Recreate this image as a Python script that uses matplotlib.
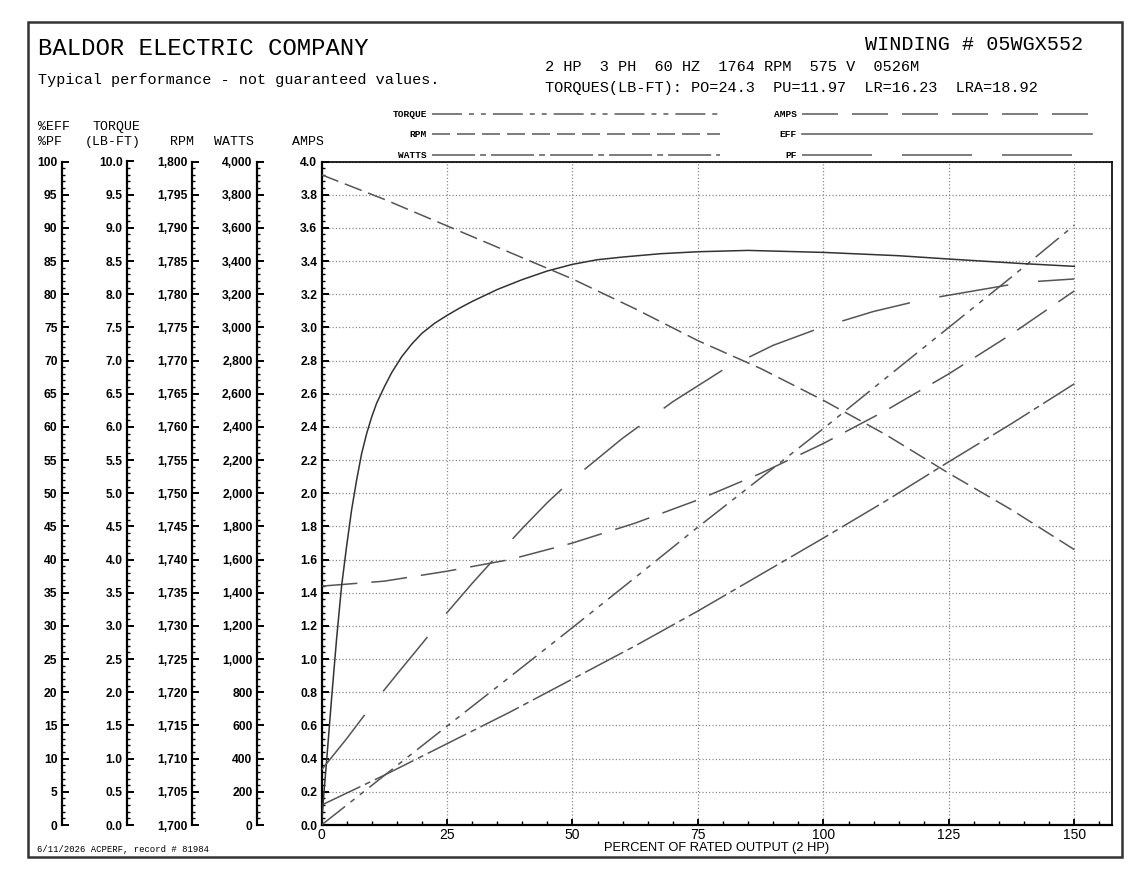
import matplotlib
matplotlib.use('Agg')
import matplotlib.pyplot as plt
from matplotlib.ticker import MultipleLocator, FuncFormatter
from matplotlib.patches import Rectangle

plt.rcParams['lines.scale_dashes'] = False

W, H = 1142, 882

# ---- performance data ----
LOAD = [0, 12.5, 25, 37.5, 50, 62.5, 75, 87.5, 100, 112.5, 125, 137.5, 150]
TORQUE = [0, 0.745, 1.49, 2.23, 2.975, 3.73, 4.49, 5.23, 5.975, 6.74, 7.5, 8.26, 9.04]
RPM = [1798.0, 1794.3, 1790.3, 1786.3, 1782.3, 1777.8, 1773.0, 1768.8, 1764.0,
       1758.8, 1753.0, 1747.5, 1741.5]
WATTS = [120, 300, 490, 680, 880, 1080, 1290, 1510, 1730, 1955, 2190, 2420, 2660]
AMPS = [1.44, 1.47, 1.53, 1.60, 1.70, 1.82, 1.96, 2.12, 2.30, 2.50, 2.72, 2.96, 3.22]

EFF_LOAD = [0, 0.5, 1, 2, 3, 4, 5, 6, 7, 8, 9, 10, 11, 12.5, 14, 16, 18, 20,
            22.5, 25, 27.5, 30, 35, 40, 45, 50, 55, 60, 67.5, 75, 85, 100, 115,
            125, 140, 150]
EFF = [0, 5, 9.5, 19, 28, 36, 42, 47.5, 52, 56, 59, 61.5, 63.6, 66.0, 68.2,
       70.6, 72.5, 74.1, 75.6, 76.8, 77.9, 78.9, 80.7, 82.2, 83.5, 84.5, 85.2,
       85.6, 86.1, 86.4, 86.6, 86.3, 85.8, 85.3, 84.6, 84.2]

PF_LOAD = [0, 5, 10, 15, 20, 25, 30, 35, 40, 45, 50, 60, 70, 80, 90, 100, 110,
           120, 130, 140, 150]
PF = [8.3, 13.0, 18.0, 22.7, 27.3, 32.0, 36.4, 40.6, 44.7, 48.6, 52.1, 58.3,
      63.8, 68.6, 72.3, 75.1, 77.4, 79.2, 80.5, 81.8, 82.3]

# scale columns: label, y range, major step, minor step, format
SCALES = [
    ('eff', 0, 100, 5, 1, lambda v, p: f'{v:.0f}'),
    ('torque', 0, 10, 0.5, 0.1, lambda v, p: f'{v:.1f}'),
    ('rpm', 1700, 1800, 5, 1, lambda v, p: f'{v:,.0f}'),
    ('watts', 0, 4000, 200, 40, lambda v, p: f'{v:,.0f}'),
]
SCALE_X = [61.7, 126.7, 191.7, 256.7]

STYLES = {
    'TORQUE': (0, (21.6, 5.0, 3.6, 5.0, 3.6, 5.0)),
    'RPM': (0, (13.0, 5.0)),
    'WATTS': (0, (31.0, 3.6, 4.3, 3.6)),
    'AMPS': (0, (25.9, 10.1)),
    'EFF': '-',
    'PF': (0, (50.4, 21.6)),
}

MONO = 'Liberation Mono'
SANS = 'Liberation Sans'
CURVE = '#555555'

PLOT_L, PLOT_R, PLOT_T, PLOT_B = 321.5, 1112, 161.5, 825


def rect(l, r, t, b):
    return [l / W, 1 - b / H, (r - l) / W, (b - t) / H]


fig = plt.figure(figsize=(W / 100, H / 100), dpi=100)

# overlay in pixel coordinates for the page furniture
ov = fig.add_axes([0, 0, 1, 1])
ov.set_xlim(0, W)
ov.set_ylim(H, 0)
ov.set_axis_off()
ov.add_patch(Rectangle((28, 22), 1094, 835, fill=False, lw=1.8, ec='#333333'))

ov.text(38, 55, 'BALDOR ELECTRIC COMPANY', family=MONO, size=17.2, va='baseline')
ov.text(38, 84, 'Typical performance - not guaranteed values.', family=MONO,
        size=10.9, va='baseline')
ov.text(1083, 50, 'WINDING # 05WGX552', family=MONO, size=14.5, ha='right',
        va='baseline')
ov.text(545, 71, '2 HP  3 PH  60 HZ  1764 RPM  575 V  0526M', family=MONO,
        size=11, va='baseline')
ov.text(545, 92, 'TORQUES(LB-FT): PO=24.3  PU=11.97  LR=16.23  LRA=18.92',
        family=MONO, size=11, va='baseline')

for x, y, s in [(38, 130, '%EFF'), (92, 130, 'TORQUE'), (38, 145, '%PF'),
                (85, 145, '(LB-FT)'), (170, 145, 'RPM'), (214, 145, 'WATTS'),
                (292, 145, 'AMPS')]:
    ov.text(x, y, s, family=MONO, size=9.5, va='baseline')

ov.text(37, 852, '6/11/2026 ACPERF, record # 81984', family=MONO, size=6.4,
        va='baseline')
ov.text(717, 851, 'PERCENT OF RATED OUTPUT (2 HP)', family=SANS, size=9.3,
        ha='center', va='baseline')

# legend samples
legend_rows = [('TORQUE', 427, 432, 720, 114), ('RPM', 427, 432, 720, 134),
               ('WATTS', 427, 432, 720, 155), ('AMPS', 797, 802, 1092, 114),
               ('EFF', 797, 802, 1092, 134), ('PF', 797, 802, 1092, 155)]
for name, tx, x0, x1, y in legend_rows:
    ov.text(tx, y + 3, name, family=MONO, size=6.8, weight='bold', ha='right',
            va='baseline')
    ov.plot([x0, x1], [y, y], ls=STYLES[name], color='#666666', lw=1.2)

# main plot (amps scale)
ax = fig.add_axes(rect(PLOT_L, PLOT_R, PLOT_T, PLOT_B))
ax.set_xlim(0, 157.5)
ax.set_ylim(0, 4)
ax.xaxis.set_major_locator(MultipleLocator(25))
ax.xaxis.set_minor_locator(MultipleLocator(5))
ax.yaxis.set_major_locator(MultipleLocator(0.2))
ax.yaxis.set_minor_locator(MultipleLocator(0.04))
ax.yaxis.set_major_formatter(FuncFormatter(lambda v, p: f'{v:.1f}'))
ax.tick_params(which='both', direction='in', top=False, right=False)
ax.tick_params(axis='y', which='major', length=5, width=1.4, pad=3)
ax.tick_params(axis='y', which='minor', length=2.5, width=1)
ax.tick_params(axis='x', which='major', length=4.3, width=1.4, pad=2)
ax.tick_params(axis='x', which='minor', length=3, width=1)
for lab in ax.get_yticklabels():
    lab.set_fontfamily(SANS)
    lab.set_fontweight('bold')
    lab.set_fontsize(8.7)
for lab in ax.get_xticklabels():
    lab.set_fontfamily(SANS)
    lab.set_fontsize(10)
ax.grid(True, which='major', color='#7f7f7f', lw=0.9, linestyle=(0, (0.8, 1.6)))
for sp in ax.spines.values():
    sp.set_linewidth(1.2)
ax.spines['left'].set_linewidth(1.6)
ax.spines['bottom'].set_linewidth(1.6)

# the curves, each on its own scale
curves = [
    (LOAD, TORQUE, (0, 10), 'TORQUE', CURVE),
    (LOAD, RPM, (1700, 1800), 'RPM', CURVE),
    (LOAD, WATTS, (0, 4000), 'WATTS', CURVE),
    (LOAD, AMPS, (0, 4), 'AMPS', CURVE),
    (EFF_LOAD, EFF, (0, 100), 'EFF', '#333333'),
    (PF_LOAD, PF, (0, 100), 'PF', CURVE),
]
for xs, ys, lim, name, col in curves:
    tw = ax.twinx()
    tw.set_ylim(*lim)
    tw.set_axis_off()
    tw.plot(xs, ys, ls=STYLES[name], color=col, lw=1.1)

# the left-hand scales
for (name, lo, hi, major, minor, fmt), xp in zip(SCALES, SCALE_X):
    s = fig.add_axes(rect(xp, xp + 1, PLOT_T, PLOT_B))
    s.set_ylim(lo, hi)
    s.set_xticks([])
    s.patch.set_visible(False)
    for sp in ['top', 'right', 'bottom']:
        s.spines[sp].set_visible(False)
    s.spines['left'].set_linewidth(1.6)
    s.yaxis.set_major_locator(MultipleLocator(major))
    s.yaxis.set_minor_locator(MultipleLocator(minor))
    s.yaxis.set_major_formatter(FuncFormatter(fmt))
    s.tick_params(which='both', direction='in')
    s.tick_params(which='major', length=5, width=1.4, pad=3)
    s.tick_params(which='minor', length=2.5, width=1)
    for lab in s.get_yticklabels():
        lab.set_fontfamily(SANS)
        lab.set_fontweight('bold')
        lab.set_fontsize(8.7)

fig.savefig('out.png', dpi=100)
